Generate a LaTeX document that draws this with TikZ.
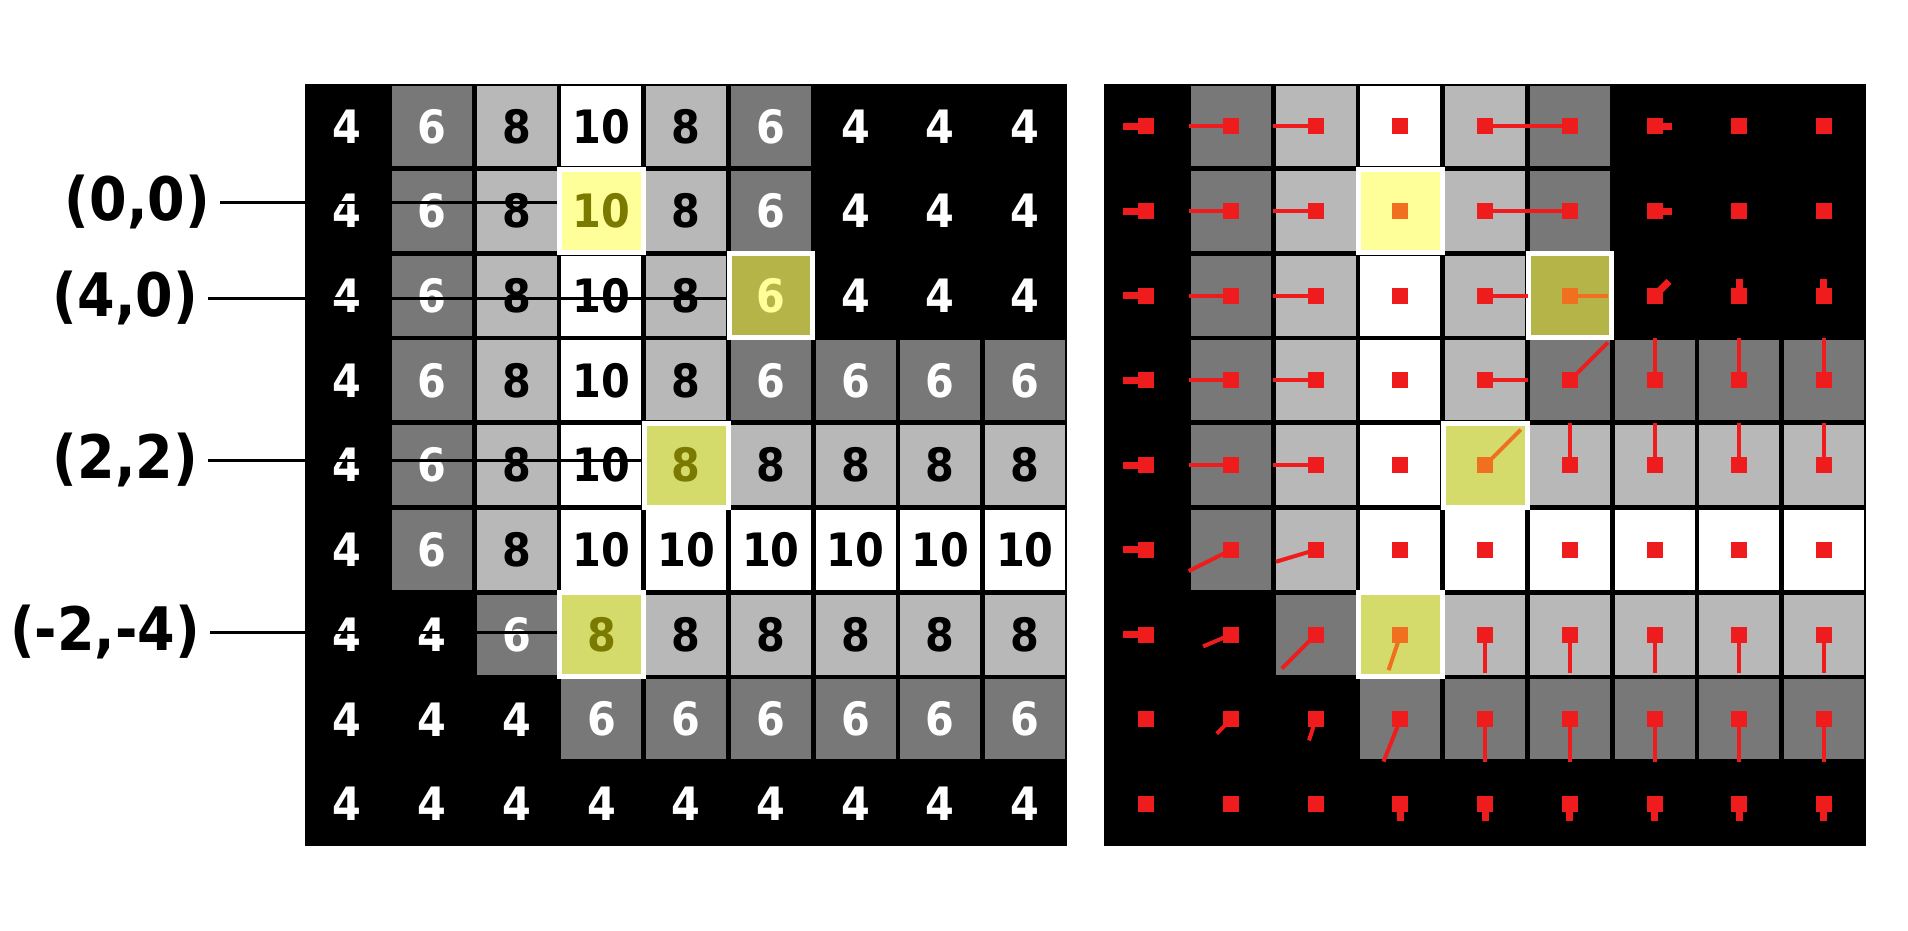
\documentclass[tikz,border=0pt]{standalone}
\usepackage[dvipsnames]{xcolor}
\usepackage{tikz}
\usepackage{fontspec}
\newfontfamily\numfont{DejaVu Sans Condensed Bold}

\definecolor{darkcell}{HTML}{787878}
\definecolor{lightcell}{HTML}{B8B8B8}
\definecolor{hlpale}{HTML}{FFFF99}
\definecolor{hlolive}{HTML}{B4B448}
\definecolor{hllime}{HTML}{D5DB6B}
\definecolor{txtolive}{HTML}{7A7A00}
\definecolor{markred}{HTML}{EE1C1C}
\definecolor{markorange}{HTML}{F07020}
% fill and text colour of a cell, by its value
\colorlet{c4}{black}    \colorlet{t4}{white}
\colorlet{c6}{darkcell} \colorlet{t6}{white}
\colorlet{c8}{lightcell}\colorlet{t8}{black}
\colorlet{c10}{white}   \colorlet{t10}{black}

\begin{document}
\begin{tikzpicture}[x=1pt, y=-1pt]
  \tikzset{
    cell/.style={minimum size=80pt, inner sep=0pt, font=\numfont\fontsize{46}{46}\selectfont},
    hl/.style={draw=white, line width=5pt, minimum size=83.7pt, inner sep=0pt,
               font=\numfont\fontsize{46}{46}\selectfont},
    lbl/.style={anchor=east, inner sep=10pt, font=\numfont\fontsize{60}{60}\selectfont},
    pointer/.style={line width=3pt},
    vec/.style={draw=markred, line width=4pt},
    stub/.style={draw=markred, line width=7pt},
    dotsq/.style={fill=markred, minimum size=16pt, inner sep=0pt},
  }
  \useasboundingbox (0,0) rectangle (1908,930);

  % both grids, same values
  \fill (305,84) rectangle (1067.3,846.3);
  \fill (1104,84) rectangle (1866.3,846.3);
  \foreach \vals [count=\r from 0] in {{4,6,8,10,8,6,4,4,4},{4,6,8,10,8,6,4,4,4},
      {4,6,8,10,8,6,4,4,4},{4,6,8,10,8,6,6,6,6},{4,6,8,10,8,8,8,8,8},
      {4,6,8,10,10,10,10,10,10},{4,4,6,8,8,8,8,8,8},{4,4,4,6,6,6,6,6,6},
      {4,4,4,4,4,4,4,4,4}}
    \foreach \v [count=\c from 0] in \vals {
      \node[cell, fill=c\v, text=t\v] (L\r\c) at ({347.35+84.7*\c}, {126.35+84.7*\r}) {\v};
      \node[cell, fill=c\v] (R\r\c) at ({1146.35+84.7*\c}, {126.35+84.7*\r}) {};
    }

  % marked cells
  \node[hl, fill=hlpale, text=txtolive] (P00L) at (L13) {10};
  \node[hl, fill=hlolive, text=hlpale] (P40L) at (L25) {6};
  \node[hl, fill=hllime, text=txtolive] (P22L) at (L44) {8};
  \node[hl, fill=hllime, text=txtolive] (Pm24L) at (L63) {8};
  \node[hl, fill=hlpale] (P00R) at (R13) {};
  \node[hl, fill=hlolive] (P40R) at (R25) {};
  \node[hl, fill=hllime] (P22R) at (R44) {};
  \node[hl, fill=hllime] (Pm24R) at (R63) {};

  \node[lbl] (l00) at (220,202) {(0,0)};
  \node[lbl] (l40) at (208,298) {(4,0)};
  \node[lbl] (l22) at (208,460) {(2,2)};
  \node[lbl] (lm24) at (210,632) {(-2,-4)};
  \draw[pointer] (l00.east) -- (l00.east -| P00L.west);
  \draw[pointer] (l40.east) -- (l40.east -| P40L.west);
  \draw[pointer] (l22.east) -- (l22.east -| P22L.west);
  \draw[pointer] (lm24.east) -- (lm24.east -| Pm24L.west);

  % vectors, in cell widths
  \foreach \r/\c/\dx/\dy in {0/1/-0.5/0,0/2/-0.5/0,0/4/0.5/0,0/5/-0.5/0,
      1/1/-0.5/0,1/2/-0.5/0,1/4/0.5/0,1/5/-0.5/0,
      2/1/-0.5/0,2/2/-0.5/0,2/4/0.5/0,
      3/1/-0.5/0,3/2/-0.5/0,3/4/0.5/0,3/5/0.45/-0.45,3/6/0/-0.5,3/7/0/-0.5,3/8/0/-0.5,
      4/1/-0.5/0,4/2/-0.5/0,4/5/0/-0.5,4/6/0/-0.5,4/7/0/-0.5,4/8/0/-0.5,
      5/1/-0.5/0.25,5/2/-0.47/0.14,
      6/1/-0.33/0.14,6/2/-0.4/0.4,6/4/0/0.45,6/5/0/0.45,6/6/0/0.45,6/7/0/0.45,6/8/0/0.45,
      7/1/-0.17/0.17,7/2/-0.08/0.25,7/3/-0.2/0.5,7/4/0/0.5,7/5/0/0.5,7/6/0/0.5,7/7/0/0.5,7/8/0/0.5}
    \draw[vec] (R\r\c.center) -- ++({84.7*\dx},{84.7*\dy});
  \foreach \r/\c/\dx/\dy in {2/5/0.45/0,4/4/0.42/-0.42,6/3/-0.14/0.42}
    \draw[vec, draw=markorange] (R\r\c.center) -- ++({84.7*\dx},{84.7*\dy});
  \foreach \r/\c/\dx/\dy in {0/0/-0.27/0,1/0/-0.27/0,2/0/-0.27/0,3/0/-0.27/0,4/0/-0.27/0,
      5/0/-0.27/0,6/0/-0.27/0,0/6/0.2/0,1/6/0.2/0,2/6/0.17/-0.17,2/7/0/-0.2,2/8/0/-0.2,
      8/3/0/0.2,8/4/0/0.2,8/5/0/0.2,8/6/0/0.2,8/7/0/0.2,8/8/0/0.2}
    \draw[stub] (R\r\c.center) -- ++({84.7*\dx},{84.7*\dy});

  \foreach \r in {0,...,8}
    \foreach \c in {0,...,8}
      \node[dotsq] (m\r\c) at (R\r\c) {};
  \node[dotsq, fill=markorange] (o13) at (R13) {};
  \node[dotsq, fill=markorange] (o25) at (R25) {};
  \node[dotsq, fill=markorange] (o44) at (R44) {};
  \node[dotsq, fill=markorange] (o63) at (R63) {};
\end{tikzpicture}
\end{document}
